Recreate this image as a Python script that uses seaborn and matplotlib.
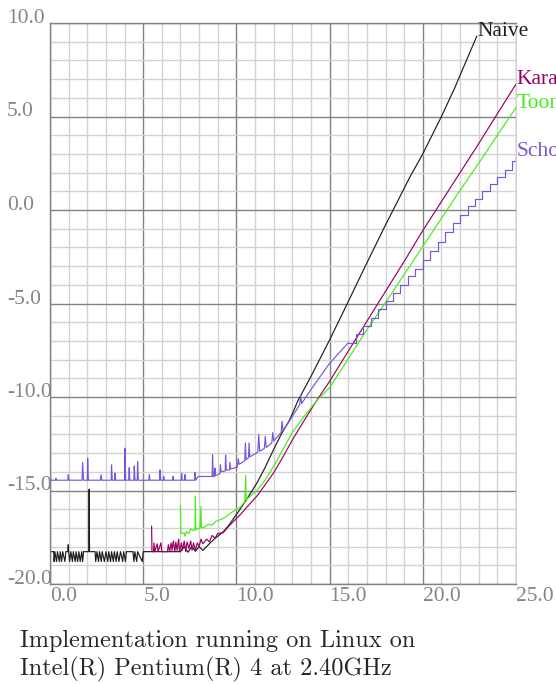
import numpy as np
import matplotlib
matplotlib.use("Agg")
import matplotlib.pyplot as plt
import seaborn as sns

# --- data (x = size, y = log time) ---
naive_x = [0.0, 0.02, 0.2, 0.22, 0.26, 0.35, 0.4, 0.5, 0.55, 0.62, 0.68, 0.8, 0.85, 0.95, 0.98, 1.0,
           1.05, 1.12, 1.2, 1.25, 1.35, 1.4, 1.48, 1.55, 1.62, 1.7, 1.75, 1.8, 2.08, 2.1, 2.12, 2.42,
           2.45, 2.52, 2.6, 2.66, 2.75, 2.8, 2.92, 3.0, 3.1, 3.15, 3.25, 3.3, 3.4, 3.45, 3.55, 3.6,
           3.7, 3.78, 3.9, 3.95, 4.05, 4.1, 4.45, 4.5, 4.55, 4.65, 4.7, 4.95, 5.0, 7.0, 7.2, 7.4,
           7.6, 7.8, 8.0, 8.2, 8.4, 8.6, 8.8, 9.0, 9.3, 9.6, 10.2, 10.6, 11.1, 11.5, 12.0, 12.4,
           12.87, 13.3, 14.0, 15.0, 16.0, 17.0, 18.0, 18.7, 19.3, 20.0, 20.5, 21.0, 21.7, 22.34, 22.9]
naive_y = [-17.95, -18.27, -18.27, -18.8, -18.27, -18.8, -18.27, -18.8, -18.27, -18.8, -18.27, -18.8,
           -18.27, -18.27, -17.9, -18.27, -18.8, -18.27, -18.8, -18.27, -18.8, -18.27, -18.8, -18.27,
           -18.8, -18.27, -18.8, -18.27, -18.27, -14.93, -18.27, -18.27, -18.8, -18.27, -18.8, -18.27,
           -18.8, -18.27, -18.8, -18.27, -18.8, -18.27, -18.8, -18.27, -18.8, -18.27, -18.8, -18.27,
           -18.8, -18.27, -18.8, -18.27, -18.8, -18.27, -18.27, -18.8, -18.27, -18.8, -18.27, -18.8,
           -18.27, -18.27, -18.0, -18.3, -18.0, -18.25, -18.0, -18.2, -18.0, -17.8, -17.6, -17.45,
           -17.2, -16.85, -16.0, -15.4, -14.6, -13.85, -12.8, -12.0, -11.2, -10.2, -8.9, -6.95, -4.9,
           -2.83, -0.8, 0.57, 1.75, 3.0, 4.0, 5.0, 6.5, 8.0, 9.3]

kara_x = [5.45, 5.47, 5.55, 5.58, 5.62, 5.75, 5.8, 5.95, 6.0, 6.3, 6.35, 6.42, 6.5, 6.55, 6.62, 6.7,
          6.75, 6.82, 6.9, 6.95, 7.05, 7.1, 7.2, 7.28, 7.35, 7.45, 7.55, 7.62, 7.7, 7.8, 7.9, 8.0,
          8.1, 8.2, 8.4, 8.55, 8.7, 8.85, 9.0, 9.3, 9.6, 9.9, 10.2, 10.6, 11.1, 11.5, 12.0, 12.5,
          13.0, 13.67, 14.3, 15.0, 16.0, 17.0, 18.0, 19.0, 20.0, 21.0, 22.0, 23.0, 24.0, 25.0]
kara_y = [-16.9, -18.27, -18.27, -17.8, -18.27, -17.85, -18.27, -17.8, -18.27, -18.27, -17.9, -18.27,
          -17.8, -18.2, -17.7, -18.27, -17.75, -18.2, -17.6, -18.27, -17.8, -18.2, -17.7, -18.27,
          -17.75, -18.1, -17.7, -18.2, -17.8, -18.2, -17.8, -18.0, -17.6, -17.85, -17.6, -17.75,
          -17.4, -17.55, -17.3, -17.25, -16.9, -16.6, -16.3, -15.85, -15.3, -14.75, -14.05, -13.2,
          -12.3, -11.2, -10.2, -9.16, -7.55, -5.95, -4.35, -2.75, -1.1, 0.45, 2.0, 3.55, 5.15, 6.73]

toom_x = [7.0, 7.02, 7.2, 7.25, 7.3, 7.45, 7.55, 7.7, 7.78, 7.8, 7.82, 8.05, 8.1, 8.12, 8.3, 8.5,
          8.7, 8.9, 9.1, 9.3, 9.5, 9.8, 10.2, 10.45, 10.5, 10.52, 11.1, 11.5, 12.0, 12.5, 13.0,
          13.7, 14.3, 15.0, 16.0, 17.0, 18.0, 19.0, 20.0, 21.0, 22.0, 23.0, 24.0, 25.0]
toom_y = [-15.8, -17.28, -17.28, -17.45, -17.2, -17.3, -17.05, -17.15, -17.1, -15.3, -17.1, -17.0,
          -15.86, -17.0, -16.95, -16.8, -16.85, -16.65, -16.57, -16.5, -16.35, -16.13, -15.9, -15.6,
          -14.2, -15.5, -15.0, -14.5, -13.7, -12.8, -11.9, -10.95, -10.2, -9.5, -7.95, -6.4, -4.95,
          -3.45, -1.95, -0.45, 1.05, 2.5, 4.0, 5.48]

scho_x = [0.0, 0.05, 0.3, 0.32, 0.35, 0.96, 0.98, 1.02, 1.72, 1.75, 1.8, 2.0, 2.02, 2.06, 2.7, 2.74,
          2.78, 3.28, 3.3, 3.34, 3.46, 3.49, 3.52, 4.0, 4.02, 4.06, 4.22, 4.25, 4.28, 4.5, 4.52,
          4.56, 4.68, 4.7, 4.74, 5.3, 5.33, 5.36, 5.88, 5.9, 5.94, 6.08, 6.1, 6.13, 6.58, 6.6, 6.63,
          7.04, 7.06, 7.1, 7.22, 7.24, 7.28, 7.76, 7.78, 7.82, 7.95, 8.7, 8.72, 8.76, 8.83, 8.85,
          8.88, 9.12, 9.14, 9.18, 9.4, 9.42, 9.46, 9.63, 9.65, 9.7, 10.05, 10.1, 10.15, 10.45,
          10.48, 10.52, 10.65, 10.68, 10.72, 10.9, 11.15, 11.2, 11.25, 11.5, 11.55, 11.6, 11.9,
          11.95, 12.0, 12.4, 12.45, 12.5, 12.9, 13.4, 13.45, 13.5, 14.0, 14.5, 15.0, 15.5, 16.0]
scho_y = [-14.07, -14.45, -14.45, -14.35, -14.45, -14.45, -14.16, -14.45, -14.45, -13.5, -14.45,
          -14.45, -13.27, -14.45, -14.45, -14.16, -14.45, -14.45, -13.63, -14.45, -14.45, -14.07,
          -14.45, -14.45, -12.73, -14.45, -14.45, -13.78, -14.45, -14.45, -13.69, -14.45, -14.45,
          -13.45, -14.45, -14.45, -14.16, -14.45, -14.45, -13.9, -14.45, -14.45, -14.25, -14.45,
          -14.45, -14.25, -14.45, -14.45, -14.07, -14.45, -14.45, -14.15, -14.45, -14.45, -14.04,
          -14.45, -14.25, -14.25, -13.09, -14.25, -14.25, -13.8, -14.2, -14.1, -13.63, -14.0,
          -13.95, -13.1, -13.9, -13.9, -13.5, -13.85, -13.75, -13.3, -13.6, -13.4, -12.45, -13.35,
          -13.25, -12.45, -13.2, -13.1, -12.95, -12.0, -12.9, -12.75, -12.1, -12.7, -12.45, -11.9,
          -12.35, -11.9, -11.3, -11.8, -11.2, -10.4, -9.9, -10.35, -9.6, -8.9, -8.2, -7.65, -7.1]
# staircase part of the Schoenhage curve
scho_step_x = [16.0, 16.4, 16.8, 17.2, 17.6, 18.0, 18.4, 18.8, 19.2, 19.6, 20.0, 20.4, 20.8, 21.2,
               21.6, 22.0, 22.4, 22.8, 23.2, 23.6, 24.0, 24.4, 24.8, 25.0]
scho_step_y = [-7.1, -6.65, -6.2, -5.75, -5.3, -4.85, -4.45, -4.0, -3.55, -3.15, -2.7, -2.2, -1.7,
               -1.2, -0.7, -0.25, 0.2, 0.6, 1.0, 1.4, 1.75, 2.15, 2.6, 2.9]

ticks = [0, 5, 10, 15, 20, 25]
yticks = [-20, -15, -10, -5, 0, 5, 10]
caption = ["Implementation running on Linux on", "Intel(R) Pentium(R) 4 at 2.40GHz"]

c_naive = "#1e1e1e"
c_kara = "#990066"
c_toom = "#44ee11"
c_scho = "#7a55d8"
major_c = "#828282"
minor_c = "#d2d2d2"

sns.set_style("white")
plt.rcParams["font.family"] = ["Liberation Serif", "DejaVu Serif"]

fig = plt.figure(figsize=(5.56, 6.84), dpi=100)
ax = fig.add_axes([50 / 556, 1 - 584 / 684, 466 / 556, 561 / 684])

# grid
ax.set_xlim(0, 25)
ax.set_ylim(-20, 10)
ax.set_xticks(ticks)
ax.set_yticks(yticks)
ax.set_xticks(np.arange(0, 26, 1), minor=True)
ax.set_yticks(np.arange(-20, 11, 1), minor=True)
ax.grid(which="minor", color=minor_c, linewidth=1.0)
ax.grid(which="major", color=major_c, linewidth=1.0)
ax.set_axisbelow(True)
for side in ["left", "top", "bottom"]:
    ax.spines[side].set_color(major_c)
    ax.spines[side].set_linewidth(1.0)
ax.spines["right"].set_color(minor_c)
ax.tick_params(which="both", length=0)

ax.set_xticklabels([f"{t:.1f}" for t in ticks])
ax.set_yticklabels([f"{t:.1f}" for t in yticks])
ax.tick_params(axis="x", pad=2.5, labelsize=15.5, labelcolor="#858585")
ax.tick_params(axis="y", pad=31, labelsize=15.5, labelcolor="#858585")
for lbl in ax.get_xticklabels():
    lbl.set_ha("left")
for lbl in ax.get_yticklabels():
    lbl.set_ha("left")
    lbl.set_va("baseline")

lw = 0.85
sns.lineplot(x=naive_x, y=naive_y, color=c_naive, lw=lw, sort=False, estimator=None, ax=ax)
sns.lineplot(x=kara_x, y=kara_y, color=c_kara, lw=lw, sort=False, estimator=None, ax=ax)
sns.lineplot(x=toom_x, y=toom_y, color=c_toom, lw=lw, sort=False, estimator=None, ax=ax)
sns.lineplot(x=scho_x, y=scho_y, color=c_scho, lw=lw, sort=False, estimator=None, ax=ax)
sns.lineplot(x=scho_step_x, y=scho_step_y, color=c_scho, lw=lw, sort=False, estimator=None,
             drawstyle="steps-post", ax=ax)
ax.set_xlabel("")
ax.set_ylabel("")

# end-of-line labels (cut off by the right edge, as in the original)
for name, xs, ys, c in [("Naive", naive_x, naive_y, c_naive),
                        ("Karatsuba", kara_x, kara_y, c_kara),
                        ("Toom-Cook", toom_x, toom_y, c_toom),
                        ("Schoenhage", scho_step_x, scho_step_y, c_scho)]:
    ax.text(xs[-1] + 0.05, ys[-1], name, color=c, fontsize=15.5, ha="left", va="baseline",
            clip_on=False)

fig.text(20 / 556, 1 - 647 / 684, caption[0], family="cmr10", fontsize=17.5, va="baseline")
fig.text(20 / 556, 1 - 675 / 684, caption[1], family="cmr10", fontsize=17.5, va="baseline")

fig.savefig("out.png", dpi=100)
